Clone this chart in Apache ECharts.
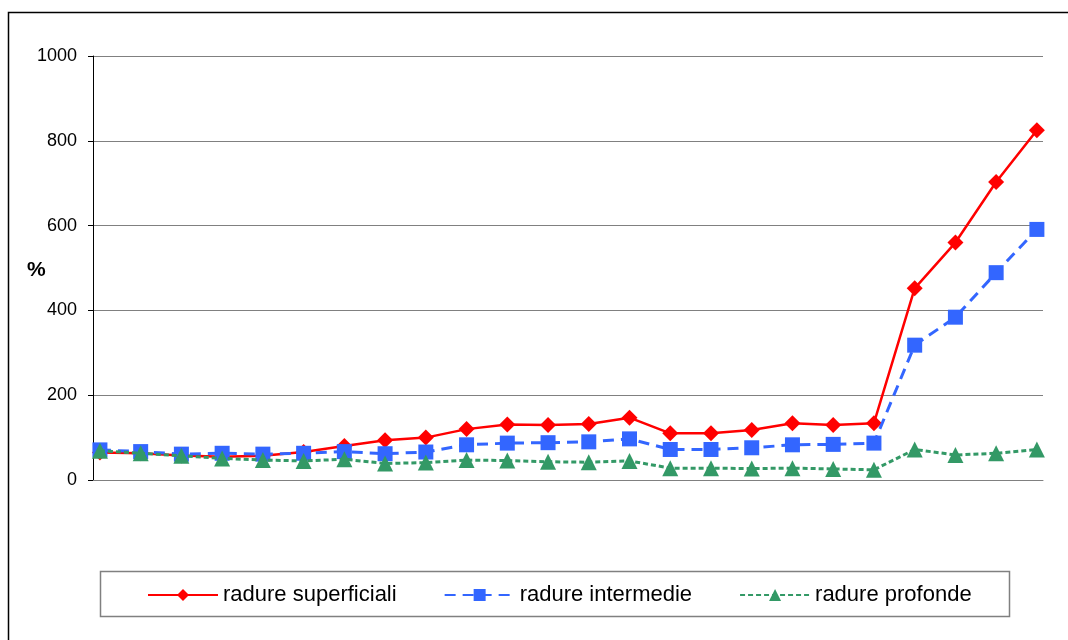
<!DOCTYPE html>
<html>
<head>
<meta charset="utf-8">
<script src="https://cdn.jsdelivr.net/npm/echarts@6/dist/echarts.min.js"></script>
<style>
  html, body { margin: 0; padding: 0; background: #fff; }
  #chart { width: 1068px; height: 640px; }
</style>
</head>
<body>
<div id="chart"></div>
<script>
// Sampling positions (one per station) and the three depth series, in %
const stations = Array.from({ length: 24 }, (_, i) => i + 1);
const seriesNames = ['radure superficiali', 'radure intermedie', 'radure profonde'];
const superficiali = [65, 63, 58, 55, 57, 66, 80, 94, 100, 120, 131, 130, 132, 147, 110, 110, 118, 134, 130, 134, 452, 560, 703, 825];
const intermedie  = [71, 67, 61, 63, 61, 63, 67, 62, 66, 83, 87, 88, 90, 97, 72, 72, 76, 83, 84, 87, 318, 384, 489, 591];
const profonde    = [69, 63, 57, 51, 47, 45, 49, 39, 41, 47, 46, 43, 42, 45, 28, 28, 27, 28, 26, 24, 72, 59, 63, 72];
const yTicks = [0, 200, 400, 600, 800, 1000];

const pairs = vals => vals.map((v, i) => [stations[i], v]);

const chart = echarts.init(document.getElementById('chart'), null, { renderer: 'canvas' });

const font = 'Liberation Sans, Arial, sans-serif';

chart.setOption({
  animation: false,
  backgroundColor: '#ffffff',
  grid: { left: 93, right: 25, top: 56, bottom: 160, containLabel: false },
  xAxis: {
    type: 'value',
    min: 0.83,
    max: 24.15,
    axisLine: { show: true, onZero: false, lineStyle: { color: '#808080', width: 1 } },
    axisTick: { show: false },
    axisLabel: { show: false },
    splitLine: { show: false }
  },
  yAxis: {
    type: 'value',
    min: yTicks[0],
    max: yTicks[yTicks.length - 1],
    interval: yTicks[1] - yTicks[0],
    axisLine: { show: true, lineStyle: { color: '#000000', width: 1 } },
    axisTick: { show: true, inside: false, length: 5, lineStyle: { color: '#000000' } },
    axisLabel: { margin: 16, color: '#000', fontFamily: font, fontSize: 18,
      formatter: v => String(v) },
    splitLine: { show: true, lineStyle: { color: '#808080', width: 1 } }
  },
  legend: {
    left: 147,
    top: 584,
    itemWidth: 70,
    itemHeight: 15,
    itemGap: 47,
    padding: 0,
    textStyle: { color: '#000', fontFamily: font, fontSize: 22 },
    data: seriesNames
  },
  graphic: [
    { type: 'rect', shape: { x: 8.5, y: 12.5, width: 1200, height: 800 },
      style: { fill: null, stroke: '#000', lineWidth: 1.5 }, silent: true, z: -10 },
    { type: 'rect', shape: { x: 100.5, y: 571.5, width: 909, height: 45 },
      style: { fill: null, stroke: '#808080', lineWidth: 1.5 }, silent: true },
    { type: 'text', left: 27, top: 260,
      style: { text: '%', fill: '#000', font: 'bold 21px ' + font } }
  ],
  series: [
    {
      name: seriesNames[0], type: 'line', data: pairs(superficiali),
      symbol: 'diamond', symbolSize: 16,
      lineStyle: { color: '#FF0000', width: 2.5, type: 'solid' },
      itemStyle: { color: '#FF0000' }, z: 2
    },
    {
      name: seriesNames[1], type: 'line', data: pairs(intermedie),
      symbol: 'rect', symbolSize: 15,
      lineStyle: { color: '#3366FF', width: 3, type: [11, 7] },
      itemStyle: { color: '#3366FF' }, z: 3
    },
    {
      name: seriesNames[2], type: 'line', data: pairs(profonde),
      symbol: 'triangle', symbolSize: 16,
      lineStyle: { color: '#339966', width: 3, type: [5, 3] },
      itemStyle: { color: '#339966' }, z: 4
    }
  ]
});
</script>
</body>
</html>
